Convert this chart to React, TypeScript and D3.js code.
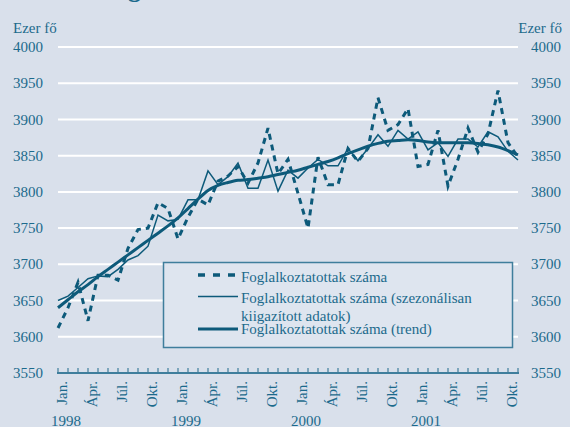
import React, { useEffect, useRef } from "react";
import * as d3 from "d3";

const years = ["1998", "1999", "2000", "2001"];
const monthNames = ["Jan.", "Febr.", "Márc.", "Ápr.", "Máj.", "Jún.", "Júl.", "Aug.", "Szept.", "Okt.", "Nov.", "Dec."];
const shownMonths = ["Jan.", "Ápr.", "Júl.", "Okt."];
const yTicks = [3550, 3600, 3650, 3700, 3750, 3800, 3850, 3900, 3950, 4000];

// Foglalkoztatottak száma (ezer fő), Jan. 1998 - Nov. 2001
const raw = [
  3612, 3640, 3675, 3622, 3685, 3685, 3678, 3722, 3748, 3750, 3785, 3777,
  3735, 3765, 3790, 3782, 3815, 3822, 3835, 3812, 3840, 3888, 3825, 3845,
  3798, 3750, 3848, 3810, 3810, 3860, 3842, 3860, 3930, 3885, 3893, 3915,
  3835, 3838, 3885, 3808, 3845, 3888, 3855, 3880, 3940, 3868, 3848,
];
const seasonal = [
  3650, 3656, 3668, 3680, 3684, 3683, 3693, 3706, 3712, 3725, 3768, 3760,
  3762, 3789, 3789, 3829, 3810, 3821, 3840, 3805, 3805, 3844, 3801, 3830,
  3819, 3833, 3845, 3836, 3836, 3860, 3843, 3860, 3879, 3863, 3885, 3873,
  3883, 3858, 3868, 3849, 3873, 3873, 3862, 3883, 3876, 3856, 3844,
];
const trend = [
  3640, 3651, 3662, 3672, 3683, 3693, 3703, 3713, 3723, 3733, 3743, 3753,
  3764, 3777, 3790, 3802, 3809, 3813, 3816, 3817, 3819, 3821, 3824, 3827,
  3830, 3834, 3838, 3842, 3847, 3853, 3858, 3863, 3867, 3870, 3871, 3872,
  3871, 3869, 3868, 3868, 3868, 3868, 3867, 3865, 3862, 3857, 3851,
];

const periods = years.flatMap((y) => monthNames.map((m) => `${y} ${m}`)).slice(0, raw.length);

const BG = "#d9e0eb";
const INK = "#0d5a7a";
const TXT = "#1c6a8c";
const FONT = "'Liberation Serif', 'Times New Roman', serif";

export default function App() {
  const ref = useRef<SVGSVGElement>(null);

  useEffect(() => {
    document.body.style.margin = "0";
    if (!ref.current) return;
    const svg = d3.select(ref.current);
    svg.selectAll("*").remove();

    const W = 570;
    const H = 427;
    svg.attr("width", W).attr("height", H);

    svg.append("rect").attr("width", W).attr("height", H).attr("fill", BG);

    const x = d3.scalePoint<string>().domain(periods).range([58, 518]);
    const y = d3.scaleLinear().domain([3550, 4000]).range([372.9, 47.1]);

    // cut-off title descender
    svg
      .append("text")
      .attr("x", 128)
      .attr("y", -3)
      .attr("font-family", FONT)
      .attr("font-weight", "bold")
      .attr("font-size", 26)
      .attr("fill", TXT)
      .text("g");

    // gridlines
    svg
      .append("g")
      .selectAll("line")
      .data(yTicks.filter((t) => t > 3550))
      .enter()
      .append("line")
      .attr("x1", 58)
      .attr("x2", 518)
      .attr("y1", (d) => y(d))
      .attr("y2", (d) => y(d))
      .attr("stroke", "#ffffff")
      .attr("stroke-width", 2);

    // y labels both sides
    const yl = svg.append("g").attr("font-family", FONT).attr("font-size", 15).attr("fill", TXT);
    yTicks.forEach((t) => {
      yl.append("text").attr("x", 13).attr("y", y(t) + 5).text(t);
      yl.append("text").attr("x", 531).attr("y", y(t) + 5).text(t);
    });
    yl.append("text").attr("x", 13).attr("y", 33).text("Ezer fő");
    yl.append("text").attr("x", 562).attr("y", 33).attr("text-anchor", "end").text("Ezer fő");

    // x axis
    const ax = svg.append("g");
    ax.append("line")
      .attr("x1", 57)
      .attr("x2", 519)
      .attr("y1", y(3550))
      .attr("y2", y(3550))
      .attr("stroke", "#3f7e9c")
      .attr("stroke-width", 2);
    ax.selectAll("line.tick")
      .data(periods)
      .enter()
      .append("line")
      .attr("class", "tick")
      .attr("x1", (d) => x(d) as number)
      .attr("x2", (d) => x(d) as number)
      .attr("y1", y(3550))
      .attr("y2", y(3550) - 5)
      .attr("stroke", "#3f7e9c")
      .attr("stroke-width", 1.2);

    const labelled = periods.filter((p) => shownMonths.includes(p.split(" ")[1]));
    ax.selectAll("text.m")
      .data(labelled)
      .enter()
      .append("text")
      .attr("class", "m")
      .attr("transform", (d) => `translate(${(x(d) as number) + 3.5},381) rotate(-90)`)
      .attr("dy", "0.35em")
      .attr("text-anchor", "end")
      .attr("font-family", FONT)
      .attr("font-size", 15)
      .attr("fill", TXT)
      .text((d) => d.split(" ")[1]);

    ax.selectAll("text.y")
      .data(years)
      .enter()
      .append("text")
      .attr("class", "y")
      .attr("x", (d) => (x(`${d} Jan.`) as number) + 8)
      .attr("y", 426)
      .attr("text-anchor", "middle")
      .attr("font-family", FONT)
      .attr("font-size", 15)
      .attr("fill", TXT)
      .text((d) => d);

    // series
    const straight = d3
      .line<number>()
      .x((_, i) => x(periods[i]) as number)
      .y((d) => y(d));
    const smooth = d3
      .line<number>()
      .x((_, i) => x(periods[i]) as number)
      .y((d) => y(d))
      .curve(d3.curveMonotoneX);

    svg.append("path")
      .attr("d", straight(raw))
      .attr("fill", "none")
      .attr("stroke", INK)
      .attr("stroke-width", 3)
      .attr("stroke-dasharray", "6,5");
    svg.append("path")
      .attr("d", straight(seasonal))
      .attr("fill", "none")
      .attr("stroke", INK)
      .attr("stroke-width", 1.5)
      .attr("stroke-linejoin", "miter");
    svg.append("path")
      .attr("d", smooth(trend))
      .attr("fill", "none")
      .attr("stroke", INK)
      .attr("stroke-width", 3);

    // legend
    const lg = svg.append("g");
    lg.append("rect")
      .attr("x", 163.5)
      .attr("y", 262.5)
      .attr("width", 349)
      .attr("height", 85)
      .attr("fill", "#dee5ef")
      .attr("stroke", "#3f7e9c")
      .attr("stroke-width", 1.5);
    const items = [
      { y: 275, dash: "7,8", w: 3.5, label: ["Foglalkoztatottak száma"], ty: 281.5 },
      { y: 296.5, dash: null, w: 1.5, label: ["Foglalkoztatottak száma (szezonálisan", "kiigazított adatok)"], ty: 303 },
      { y: 329, dash: null, w: 3, label: ["Foglalkoztatottak száma (trend)"], ty: 333.5 },
    ];
    items.forEach((it) => {
      const l = lg.append("line")
        .attr("x1", 198)
        .attr("x2", 238)
        .attr("y1", it.y)
        .attr("y2", it.y)
        .attr("stroke", INK)
        .attr("stroke-width", it.w);
      if (it.dash) l.attr("stroke-dasharray", it.dash);
      it.label.forEach((t, k) => {
        lg.append("text")
          .attr("x", 241)
          .attr("y", it.ty + k * 17.5)
          .attr("font-family", FONT)
          .attr("font-size", 15)
          .attr("fill", TXT)
          .text(t);
      });
    });
  }, []);

  return <svg ref={ref} style={{ display: "block" }}></svg>;
}
